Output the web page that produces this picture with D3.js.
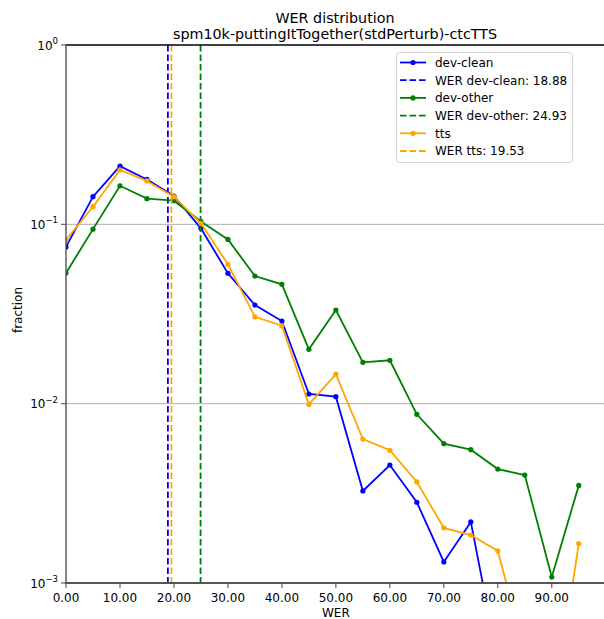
<!DOCTYPE html>
<html>
<head>
<meta charset="utf-8">
<script src="https://cdn.jsdelivr.net/npm/d3@7"></script>
<style>
  body { margin: 0; background: #fff; }
  text { font-family: "DejaVu Sans", sans-serif; fill: #000; }
</style>
</head>
<body>
<script>
// WER bins (lower edge) and fraction per bin
let bins = [0, 5, 10, 15, 20, 25, 30, 35, 40, 45, 50, 55, 60, 65, 70, 75, 80, 85, 90, 95];

let devClean = [0.0748, 0.1426, 0.211, 0.178, 0.1439, 0.095, 0.0533, 0.0355, 0.0289, 0.01132,
  0.01094, 0.00326, 0.00455, 0.00282, 0.00131, 0.00219, 0.00037, 0, 0, 0];
let devOther = [0.0535, 0.094, 0.164, 0.139, 0.1355, 0.1037, 0.0824, 0.0515, 0.0463, 0.0201,
  0.0333, 0.0170, 0.01745, 0.00872, 0.00598, 0.00554, 0.00432, 0.0040, 0.00108, 0.0035];
let tts = [0.0818, 0.1254, 0.201, 0.1745, 0.1426, 0.1013, 0.0598, 0.0305, 0.0272, 0.0099,
  0.0146, 0.00635, 0.0055, 0.00366, 0.00203, 0.00185, 0.00151, 0.00041, 0.00017, 0.00166];

let seriesNames = ["dev-clean", "dev-other", "tts"];
let seriesColors = ["#0000ff", "#008000", "#ffa500"];
let werMeans = [18.88, 24.93, 19.53];
let xTicks = [0, 10, 20, 30, 40, 50, 60, 70, 80, 90];
let yTicks = [0, -1, -2, -3];

let width = 604,
    height = 619;

let svg = d3.select( "body" )
  .append( "svg" )
  .attr( "width", width )
  .attr( "height", height );

let x = d3.scaleLinear()
  .domain( [0, 99.75] )
  .range( [66, 604.4] );

let y = d3.scaleLog()
  .domain( [1e-3, 1] )
  .range( [583, 45] );

svg.append( "clipPath" ).attr( "id", "plotclip" )
  .append( "rect" )
  .attr( "x", 66 ).attr( "y", 45 )
  .attr( "width", 604 - 66 ).attr( "height", 583 - 45 );

// grid
svg.append( "g" ).selectAll( "line" )
  .data( [-1, -2] )
  .enter()
  .append( "line" )
  .attr( "x1", 66 ).attr( "x2", 604 )
  .attr( "y1", d => y( Math.pow(10, d) ) )
  .attr( "y2", d => y( Math.pow(10, d) ) )
  .attr( "stroke", "#b0b0b0" )
  .attr( "stroke-width", 1 );

let plot = svg.append( "g" ).attr( "clip-path", "url(#plotclip)" );

let allSeries = [devClean, devOther, tts];

let line = d3.line()
  .defined( d => d[1] > 0 )
  .x( d => x(d[0]) )
  .y( d => y(d[1]) );

allSeries.forEach(function(vals, i){
  let pts = bins.map( (b, j) => [b, vals[j]] );
  plot.append( "path" )
    .attr( "d", line(pts) )
    .attr( "fill", "none" )
    .attr( "stroke", seriesColors[i] )
    .attr( "stroke-width", 1.8 );
  plot.selectAll( ".pt" + i )
    .data( pts.filter( d => d[1] > 0 ) )
    .enter()
    .append( "circle" )
    .attr( "cx", d => x(d[0]) )
    .attr( "cy", d => y(d[1]) )
    .attr( "r", 2.6 )
    .attr( "fill", seriesColors[i] );
  plot.append( "line" )
    .attr( "x1", x(werMeans[i]) ).attr( "x2", x(werMeans[i]) )
    .attr( "y1", 45 ).attr( "y2", 583 )
    .attr( "stroke", seriesColors[i] )
    .attr( "stroke-width", 1.8 )
    .attr( "stroke-dasharray", "6.6,2.9" );
});

// spines
svg.append( "line" ).attr( "x1", 66 ).attr( "x2", 604 ).attr( "y1", 45 ).attr( "y2", 45 )
  .attr( "stroke", "#000" ).attr( "stroke-width", 1.3 );
svg.append( "line" ).attr( "x1", 66 ).attr( "x2", 66 ).attr( "y1", 45 ).attr( "y2", 583 )
  .attr( "stroke", "#444" ).attr( "stroke-width", 1.3 );
svg.append( "line" ).attr( "x1", 65 ).attr( "x2", 604 ).attr( "y1", 583 ).attr( "y2", 583 )
  .attr( "stroke", "#555" ).attr( "stroke-width", 2 );

// x axis
let xg = svg.append( "g" );
xg.selectAll( "line" )
  .data( xTicks )
  .enter()
  .append( "line" )
  .attr( "x1", d => x(d) ).attr( "x2", d => x(d) )
  .attr( "y1", 583 ).attr( "y2", 588 )
  .attr( "stroke", "#555" ).attr( "stroke-width", 1.1 );
xg.selectAll( "text" )
  .data( xTicks )
  .enter()
  .append( "text" )
  .attr( "x", d => x(d) )
  .attr( "y", 602 )
  .attr( "text-anchor", "middle" )
  .style( "font-size", "12px" )
  .text( d => d3.format(".2f")(d) );

svg.append( "text" )
  .attr( "x", x(50) ).attr( "y", 617 )
  .attr( "text-anchor", "middle" )
  .style( "font-size", "12px" )
  .text( "WER" );

// y axis
let yg = svg.append( "g" );
yg.selectAll( "line" )
  .data( yTicks )
  .enter()
  .append( "line" )
  .attr( "x1", 61 ).attr( "x2", 66 )
  .attr( "y1", d => y( Math.pow(10, d) ) )
  .attr( "y2", d => y( Math.pow(10, d) ) )
  .attr( "stroke", "#555" ).attr( "stroke-width", 1.1 );
let ylab = yg.selectAll( "text" )
  .data( yTicks )
  .enter()
  .append( "text" )
  .attr( "x", 58 )
  .attr( "y", d => y( Math.pow(10, d) ) + 4.5 )
  .attr( "text-anchor", "end" )
  .style( "font-size", "12px" );
ylab.append( "tspan" ).text( "10" );
ylab.append( "tspan" )
  .attr( "dy", -5.5 )
  .style( "font-size", "8.5px" )
  .text( d => d === 0 ? "0" : "\u2212" + (-d) );

svg.append( "text" )
  .attr( "transform", "translate(22,310) rotate(-90)" )
  .attr( "text-anchor", "middle" )
  .style( "font-size", "12px" )
  .text( "fraction" );

// title
svg.append( "text" )
  .attr( "x", 335 ).attr( "y", 22.5 )
  .attr( "text-anchor", "middle" )
  .style( "font-size", "14.3px" )
  .text( "WER distribution" );
svg.append( "text" )
  .attr( "x", 335 ).attr( "y", 39 )
  .attr( "text-anchor", "middle" )
  .style( "font-size", "14.3px" )
  .text( "spm10k-puttingItTogether(stdPerturb)-ctcTTS" );

// legend
let legend = svg.append( "g" );
legend.append( "rect" )
  .attr( "x", 396.5 ).attr( "y", 52.5 )
  .attr( "width", 176 ).attr( "height", 110 )
  .attr( "rx", 3 )
  .attr( "fill", "#fff" ).attr( "fill-opacity", 0.8 )
  .attr( "stroke", "#d5d5d5" ).attr( "stroke-width", 1 );

let entries = [];
seriesNames.forEach(function(n, i){
  entries.push( { label: n, color: seriesColors[i], dashed: false } );
  entries.push( { label: "WER " + n + ": " + werMeans[i].toFixed(2), color: seriesColors[i], dashed: true } );
});

let rows = legend.selectAll( ".row" )
  .data( entries )
  .enter()
  .append( "g" )
  .attr( "transform", (d, i) => "translate(0," + (62.5 + i * 17.7) + ")" );
rows.append( "line" )
  .attr( "x1", 400 ).attr( "x2", 426 )
  .attr( "stroke", d => d.color )
  .attr( "stroke-width", 1.8 )
  .attr( "stroke-dasharray", d => d.dashed ? "6.6,2.9" : null );
rows.filter( d => !d.dashed )
  .append( "circle" )
  .attr( "cx", 413 ).attr( "r", 2.6 )
  .attr( "fill", d => d.color );
rows.append( "text" )
  .attr( "x", 435 ).attr( "y", 4.3 )
  .style( "font-size", "12px" )
  .text( d => d.label );
</script>
</body>
</html>
